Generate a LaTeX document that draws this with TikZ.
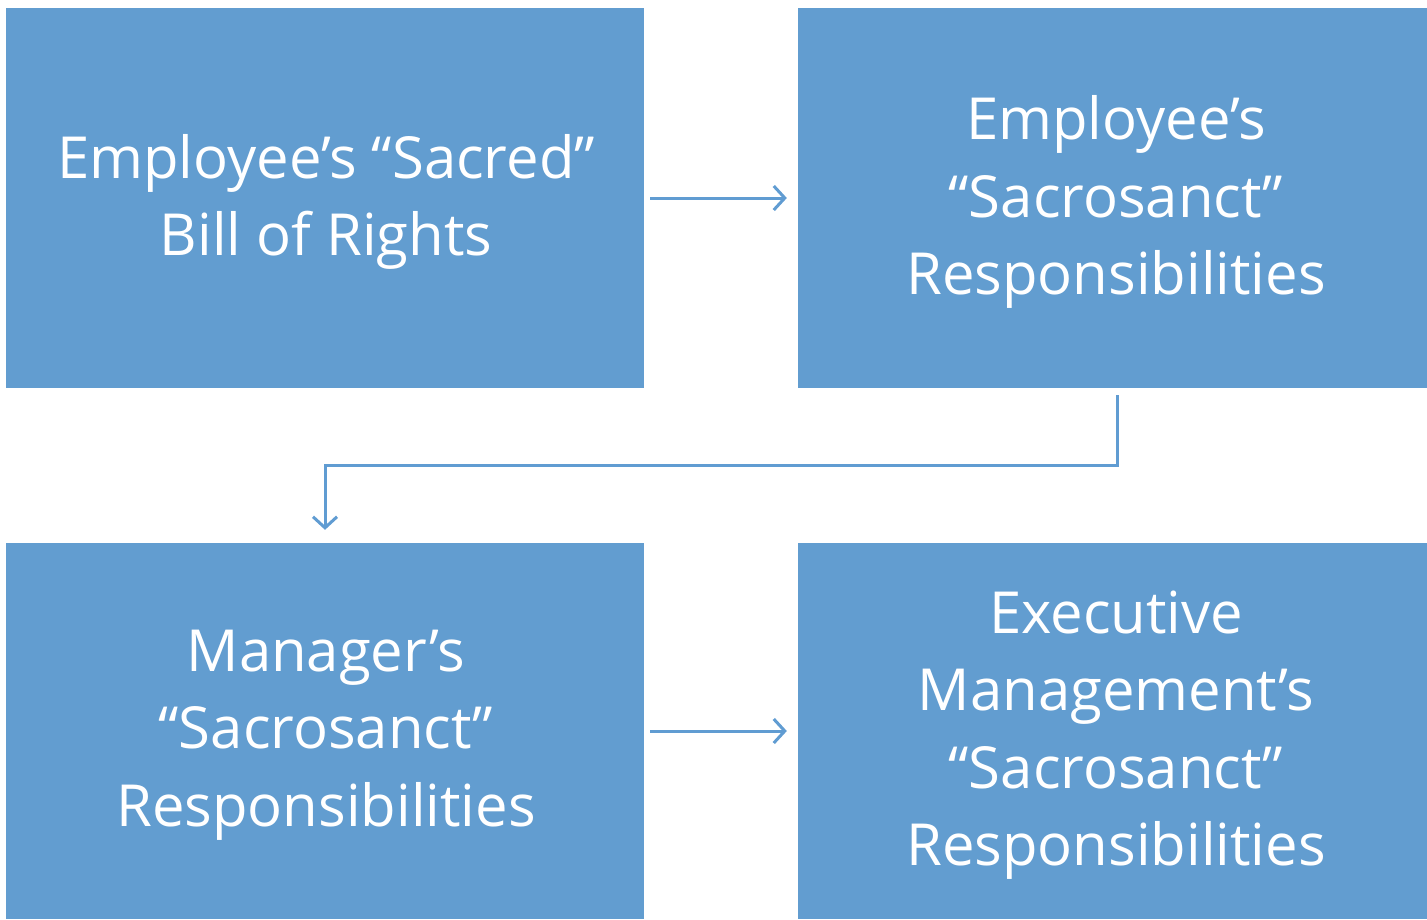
\documentclass[tikz,border=0pt]{standalone}
\usepackage{fontspec}
\setmainfont{Open Sans}
\usetikzlibrary{arrows.meta}
\definecolor{boxblue}{RGB}{98,157,208}
\definecolor{linkblue}{RGB}{96,156,210}
\tikzset{
  card/.style={rectangle, fill=boxblue, draw=none, inner sep=0pt},
  cardtext/.style={inner sep=0pt, text=white, align=center,
    font=\fontsize{58}{77.5}\selectfont},
  link/.style={draw=linkblue, line width=3pt,
    -{Straight Barb[length=11pt, width=24pt, line width=3pt]}},
}
\begin{document}
\begin{tikzpicture}[x=1pt, y=-1pt]
  \useasboundingbox (0,0) rectangle (1427,919);
  \fill[white] (0,0) rectangle (1427,919);

  % the four boxes
  \node[card, minimum width=638pt, minimum height=380pt] (rights) at (325,198) {};
  \node[card, minimum width=629pt, minimum height=380pt] (emp) at (1112.5,198) {};
  \node[card, minimum width=638pt, minimum height=376pt] (mgr) at (325,731) {};
  \node[card, minimum width=629pt, minimum height=376pt] (exec) at (1112.5,731) {};

  % their captions
  \node[cardtext] (rightsT) at ([xshift=1pt, yshift=-4pt]rights.center)
    {Employee’s “Sacred”\\Bill of Rights};
  \node[cardtext] (empT) at ([xshift=3.5pt, yshift=-4pt]emp.center)
    {Employee’s\\“Sacrosanct”\\Responsibilities};
  \node[cardtext] (mgrT) at ([xshift=1pt, yshift=-4pt]mgr.center)
    {Manager’s\\“Sacrosanct”\\Responsibilities};
  \node[cardtext] (execT) at ([xshift=3.5pt, yshift=-4pt]exec.center)
    {Executive\\Management’s\\“Sacrosanct”\\Responsibilities};

  % connectors
  \draw[link, shorten <=6pt, shorten >=11pt] (rights.east) -- (emp.west);
  \draw[link, shorten <=6pt, shorten >=11pt] (mgr.east) -- (exec.west);
  \draw[link, shorten >=13pt]
    ([xshift=4.5pt, yshift=-7pt]emp.south) -- ++(0pt,-70pt) -| (mgr.north);
\end{tikzpicture}
\end{document}
